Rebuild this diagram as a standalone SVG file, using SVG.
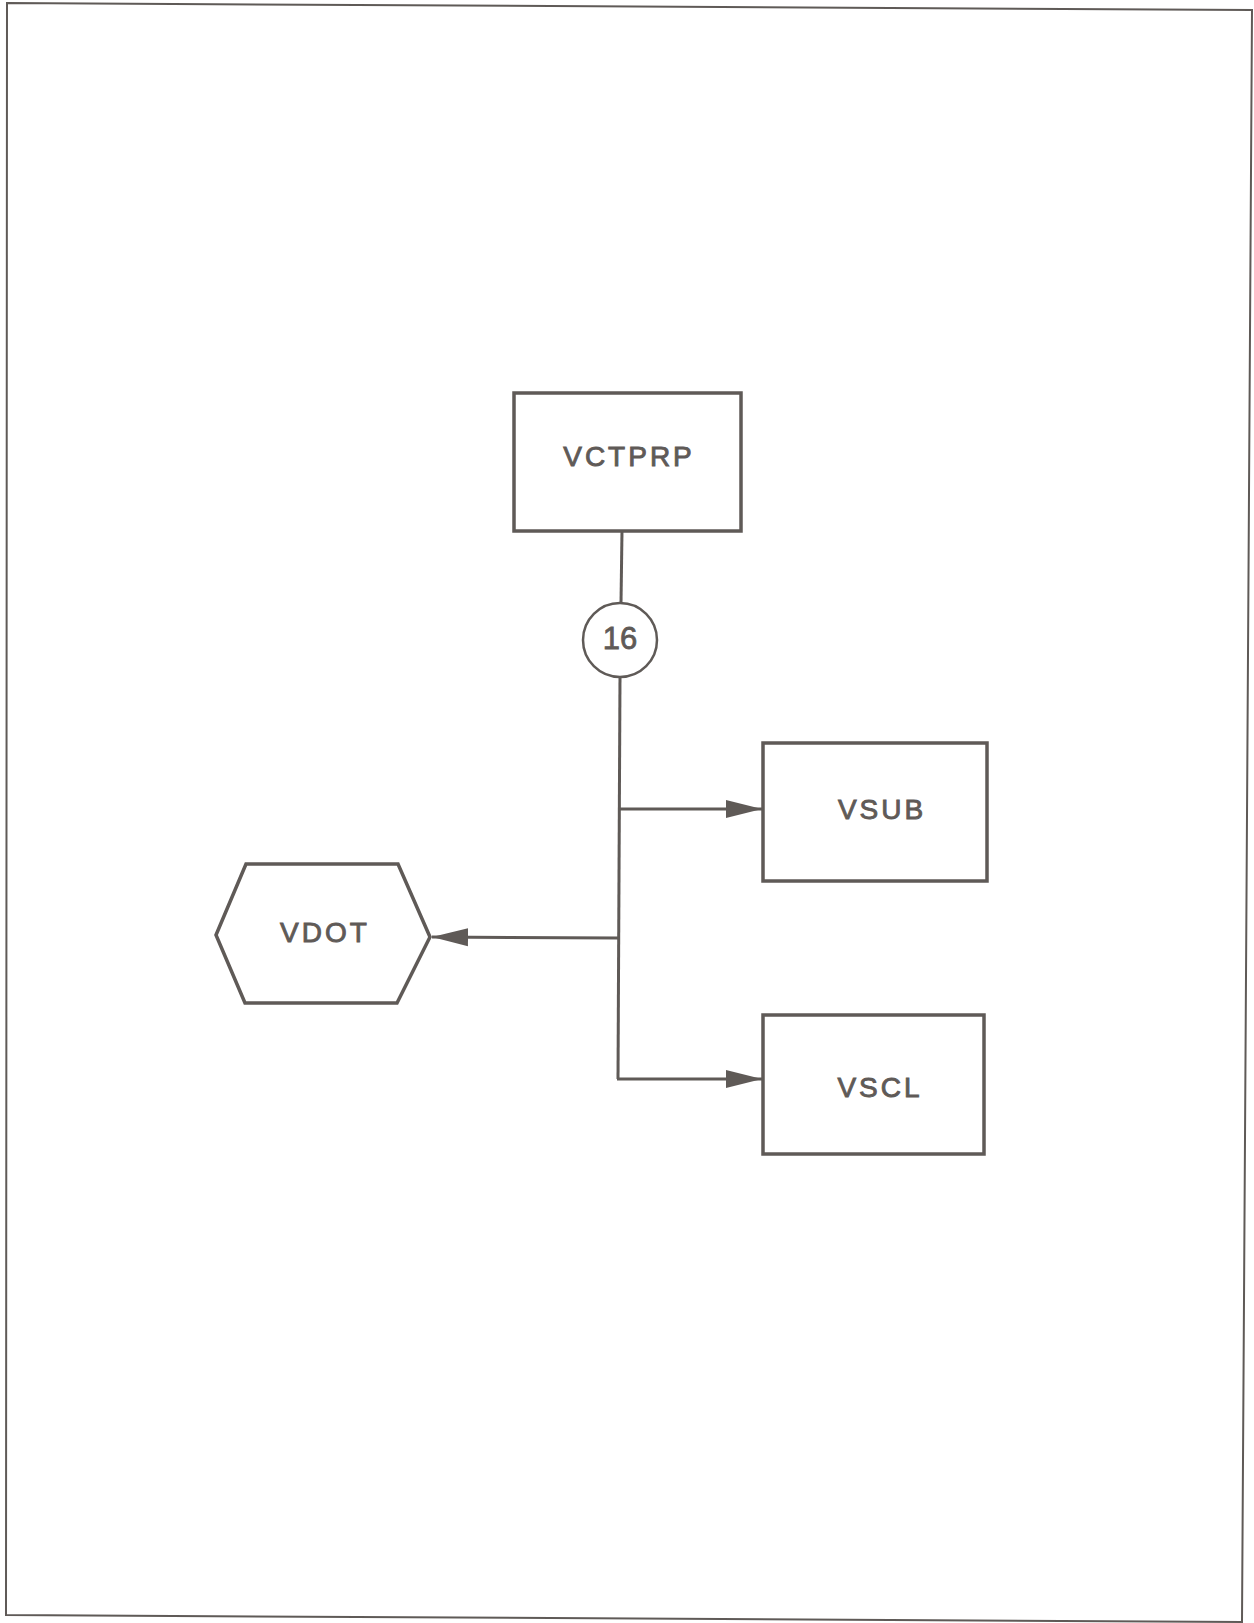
<svg xmlns="http://www.w3.org/2000/svg" width="1254" height="1623" viewBox="0 0 1254 1623">
  <style>
    .shape { fill: none; stroke: #5f5a57; stroke-width: 3.5; stroke-linejoin: miter; }
    .wire { fill: none; stroke: #5f5a57; stroke-width: 3; }
    .label { font-family: "Liberation Sans", Arial, sans-serif; font-size: 28px; fill: #5f5a57; stroke: #5f5a57; stroke-width: 0.9; text-anchor: middle; letter-spacing: 3px; }
  </style>
  <defs>
    <marker id="arrow" viewBox="0 0 36 20" refX="36" refY="10" markerWidth="36" markerHeight="20" markerUnits="userSpaceOnUse" orient="auto">
      <path d="M0,1 L36,10 L0,19 Z" fill="#5f5a57"/>
    </marker>
  </defs>
  <rect width="1254" height="1623" fill="#ffffff"/>

  <!-- sheet frame -->
  <path d="M7,3 L1252,10 L1242,1622 L6,1615 Z" fill="none" stroke="#5f5a57" stroke-width="2"/>

  <!-- connectors -->
  <g id="connectors">
    <line class="wire" x1="622" y1="531" x2="621" y2="603"/>
    <path class="wire" d="M620,676 L618,1079"/>
    <line class="wire" x1="620" y1="809" x2="762" y2="809" marker-end="url(#arrow)"/>
    <line class="wire" x1="618" y1="938" x2="432" y2="937" marker-end="url(#arrow)"/>
    <line class="wire" x1="617" y1="1079" x2="762" y2="1079" marker-end="url(#arrow)"/>
  </g>

  <g id="vctprp">
    <rect class="shape" x="514" y="393" width="227" height="138"/>
    <text class="label" x="629" y="466">VCTPRP</text>
  </g>

  <g id="ref16">
    <circle cx="620" cy="640" r="37" fill="none" stroke="#5f5a57" stroke-width="2.5"/>
    <text x="620" y="649" font-family="'Liberation Sans', Arial, sans-serif" font-size="31" fill="#5f5a57" stroke="#5f5a57" stroke-width="0.8" text-anchor="middle">16</text>
  </g>

  <g id="vsub">
    <rect class="shape" x="763" y="743" width="224" height="138"/>
    <text class="label" x="882" y="819">VSUB</text>
  </g>

  <g id="vdot">
    <polygon class="shape" points="216,935 246,864 398,864 430,937 397,1003 245,1003"/>
    <text class="label" x="325" y="942">VDOT</text>
  </g>

  <g id="vscl">
    <rect class="shape" x="763" y="1015" width="221" height="139"/>
    <text class="label" x="880" y="1097">VSCL</text>
  </g>
</svg>
